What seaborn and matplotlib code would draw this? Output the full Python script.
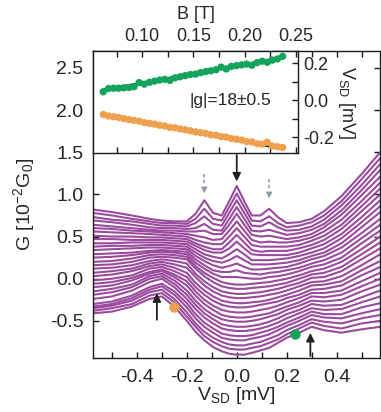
import numpy as np
import pandas as pd
import matplotlib
matplotlib.use('Agg')
import matplotlib.pyplot as plt
import seaborn as sns

# bias points shared by every conductance trace [mV]
v_sd = [-0.575, -0.5, -0.42, -0.35, -0.3, -0.25, -0.2, -0.165, -0.13, -0.095, -0.06, -0.03, 0.0,
        0.03, 0.06, 0.095, 0.13, 0.165, 0.2, 0.25, 0.3, 0.35, 0.42, 0.5, 0.575]

# offset traces, top to bottom [10^-2 G0]
g_upper = [
    [0.82, 0.79, 0.75, 0.71, 0.69, 0.68, 0.68, 0.77, 0.93, 0.78, 0.75, 0.92, 1.10, 0.92, 0.75, 0.75, 0.83, 0.73, 0.66, 0.67, 0.71, 0.80, 0.98, 1.24, 1.50],
    [0.78, 0.75, 0.71, 0.68, 0.66, 0.66, 0.65, 0.71, 0.83, 0.71, 0.69, 0.85, 1.01, 0.85, 0.69, 0.68, 0.74, 0.66, 0.61, 0.63, 0.67, 0.75, 0.92, 1.18, 1.43],
    [0.73, 0.70, 0.68, 0.65, 0.63, 0.63, 0.62, 0.66, 0.74, 0.65, 0.63, 0.78, 0.93, 0.78, 0.63, 0.62, 0.67, 0.61, 0.57, 0.58, 0.62, 0.70, 0.87, 1.11, 1.36],
    [0.69, 0.67, 0.64, 0.61, 0.60, 0.60, 0.59, 0.60, 0.65, 0.58, 0.57, 0.71, 0.85, 0.71, 0.57, 0.56, 0.58, 0.55, 0.52, 0.54, 0.58, 0.65, 0.81, 1.05, 1.29],
    [0.64, 0.62, 0.60, 0.58, 0.57, 0.57, 0.56, 0.56, 0.57, 0.53, 0.53, 0.64, 0.77, 0.64, 0.52, 0.50, 0.51, 0.49, 0.47, 0.49, 0.53, 0.61, 0.76, 0.99, 1.21],
    [0.60, 0.59, 0.57, 0.56, 0.55, 0.54, 0.53, 0.51, 0.49, 0.46, 0.47, 0.57, 0.68, 0.57, 0.46, 0.43, 0.44, 0.43, 0.43, 0.45, 0.49, 0.56, 0.70, 0.92, 1.14],
    [0.56, 0.55, 0.54, 0.53, 0.52, 0.51, 0.50, 0.46, 0.43, 0.41, 0.41, 0.50, 0.60, 0.50, 0.40, 0.38, 0.38, 0.38, 0.38, 0.40, 0.45, 0.51, 0.64, 0.86, 1.07],
    [0.51, 0.50, 0.50, 0.49, 0.49, 0.48, 0.47, 0.42, 0.38, 0.35, 0.35, 0.43, 0.52, 0.43, 0.34, 0.32, 0.33, 0.33, 0.33, 0.36, 0.40, 0.46, 0.59, 0.80, 1.00],
    [0.47, 0.47, 0.46, 0.46, 0.46, 0.45, 0.44, 0.39, 0.34, 0.31, 0.31, 0.36, 0.44, 0.36, 0.29, 0.28, 0.28, 0.28, 0.28, 0.31, 0.36, 0.41, 0.53, 0.73, 0.93],
    [0.42, 0.42, 0.43, 0.43, 0.43, 0.42, 0.41, 0.35, 0.29, 0.26, 0.24, 0.29, 0.35, 0.29, 0.22, 0.22, 0.22, 0.23, 0.24, 0.27, 0.31, 0.36, 0.48, 0.67, 0.86],
]
g_middle = [
    [0.38, 0.39, 0.39, 0.40, 0.40, 0.39, 0.38, 0.31, 0.25, 0.21, 0.19, 0.22, 0.27, 0.22, 0.17, 0.17, 0.17, 0.18, 0.19, 0.22, 0.27, 0.31, 0.42, 0.61, 0.79],
    [0.34, 0.35, 0.36, 0.37, 0.37, 0.36, 0.35, 0.27, 0.21, 0.16, 0.13, 0.15, 0.18, 0.14, 0.11, 0.11, 0.12, 0.13, 0.14, 0.18, 0.23, 0.27, 0.37, 0.54, 0.71],
    [0.29, 0.30, 0.31, 0.33, 0.34, 0.33, 0.32, 0.23, 0.16, 0.10, 0.08, 0.08, 0.10, 0.07, 0.06, 0.05, 0.07, 0.08, 0.10, 0.13, 0.18, 0.22, 0.31, 0.48, 0.64],
    [0.25, 0.26, 0.28, 0.31, 0.32, 0.31, 0.29, 0.19, 0.12, 0.06, 0.02, 0.02, 0.02, 0.01, 0.00, 0.00, 0.02, 0.03, 0.05, 0.09, 0.14, 0.17, 0.25, 0.42, 0.57],
    [0.20, 0.21, 0.24, 0.28, 0.29, 0.28, 0.26, 0.15, 0.07, 0.01, -0.04, -0.06, -0.07, -0.07, -0.06, -0.05, -0.04, -0.02, 0.00, 0.04, 0.09, 0.12, 0.20, 0.35, 0.50],
    [0.16, 0.17, 0.20, 0.25, 0.26, 0.25, 0.23, 0.12, 0.03, -0.04, -0.09, -0.11, -0.12, -0.12, -0.11, -0.10, -0.09, -0.07, -0.05, 0.00, 0.05, 0.07, 0.14, 0.29, 0.43],
    [0.12, 0.13, 0.16, 0.21, 0.23, 0.21, 0.18, 0.06, -0.03, -0.10, -0.15, -0.17, -0.18, -0.18, -0.17, -0.16, -0.14, -0.12, -0.09, -0.05, 0.01, 0.02, 0.09, 0.23, 0.36],
    [0.07, 0.09, 0.12, 0.18, 0.20, 0.17, 0.13, 0.02, -0.08, -0.15, -0.20, -0.22, -0.23, -0.23, -0.22, -0.21, -0.19, -0.17, -0.14, -0.09, -0.04, -0.03, 0.03, 0.16, 0.29],
    [0.03, 0.05, 0.09, 0.15, 0.17, 0.13, 0.07, -0.05, -0.14, -0.21, -0.26, -0.28, -0.29, -0.29, -0.28, -0.27, -0.25, -0.22, -0.19, -0.14, -0.08, -0.07, -0.03, 0.10, 0.21],
    [-0.02, 0.00, 0.04, 0.12, 0.14, 0.09, 0.02, -0.10, -0.19, -0.26, -0.31, -0.33, -0.34, -0.34, -0.33, -0.31, -0.29, -0.27, -0.23, -0.19, -0.13, -0.12, -0.08, 0.04, 0.14],
]
g_lower = [
    [-0.06, -0.04, 0.01, 0.08, 0.11, 0.05, -0.03, -0.15, -0.25, -0.32, -0.37, -0.39, -0.40, -0.40, -0.39, -0.37, -0.35, -0.32, -0.28, -0.23, -0.17, -0.17, -0.14, -0.03, 0.07],
    [-0.10, -0.08, -0.02, 0.06, 0.09, 0.02, -0.08, -0.20, -0.30, -0.37, -0.43, -0.45, -0.46, -0.46, -0.45, -0.43, -0.41, -0.37, -0.33, -0.28, -0.21, -0.22, -0.19, -0.09, 0.00],
    [-0.15, -0.12, -0.07, 0.03, 0.06, -0.02, -0.14, -0.26, -0.36, -0.43, -0.48, -0.50, -0.51, -0.51, -0.50, -0.48, -0.45, -0.42, -0.37, -0.32, -0.26, -0.27, -0.25, -0.15, -0.07],
    [-0.19, -0.16, -0.10, 0.00, 0.03, -0.06, -0.19, -0.31, -0.41, -0.48, -0.54, -0.56, -0.57, -0.57, -0.56, -0.54, -0.51, -0.47, -0.42, -0.37, -0.30, -0.32, -0.31, -0.22, -0.14],
    [-0.24, -0.21, -0.14, -0.04, 0.00, -0.10, -0.24, -0.36, -0.46, -0.53, -0.59, -0.61, -0.62, -0.62, -0.61, -0.59, -0.56, -0.52, -0.47, -0.41, -0.35, -0.37, -0.36, -0.28, -0.21],
    [-0.30, -0.27, -0.20, -0.10, -0.06, -0.15, -0.29, -0.42, -0.52, -0.59, -0.65, -0.67, -0.68, -0.68, -0.67, -0.64, -0.61, -0.57, -0.52, -0.46, -0.39, -0.42, -0.42, -0.34, -0.29],
    [-0.33, -0.30, -0.23, -0.13, -0.09, -0.19, -0.34, -0.47, -0.57, -0.64, -0.70, -0.72, -0.73, -0.73, -0.71, -0.69, -0.66, -0.61, -0.56, -0.50, -0.43, -0.46, -0.47, -0.41, -0.36],
    [-0.35, -0.32, -0.26, -0.16, -0.13, -0.24, -0.40, -0.53, -0.63, -0.70, -0.75, -0.78, -0.79, -0.79, -0.77, -0.75, -0.71, -0.67, -0.61, -0.55, -0.48, -0.51, -0.53, -0.47, -0.43],
    [-0.38, -0.35, -0.30, -0.20, -0.17, -0.28, -0.45, -0.57, -0.68, -0.75, -0.80, -0.83, -0.84, -0.84, -0.82, -0.80, -0.76, -0.72, -0.66, -0.59, -0.52, -0.56, -0.59, -0.53, -0.50],
    [-0.41, -0.39, -0.33, -0.24, -0.21, -0.33, -0.50, -0.63, -0.73, -0.81, -0.86, -0.89, -0.90, -0.90, -0.88, -0.85, -0.82, -0.76, -0.70, -0.64, -0.57, -0.61, -0.64, -0.60, -0.57],
]

# inset: peak positions vs field
b_field = [0.062, 0.067, 0.072, 0.077, 0.082, 0.087, 0.092, 0.097, 0.102, 0.107, 0.112, 0.117,
           0.122, 0.127, 0.132, 0.137, 0.142, 0.147, 0.152, 0.157, 0.162, 0.167, 0.172, 0.177,
           0.182, 0.187, 0.192, 0.197, 0.202, 0.207, 0.212, 0.217, 0.222, 0.227, 0.232, 0.237]
v_up = [0.045, 0.062, 0.064, 0.064, 0.066, 0.068, 0.072, 0.094, 0.086, 0.096, 0.102, 0.108,
        0.112, 0.106, 0.120, 0.126, 0.132, 0.138, 0.140, 0.148, 0.154, 0.158, 0.164, 0.178,
        0.168, 0.182, 0.186, 0.190, 0.194, 0.188, 0.202, 0.210, 0.204, 0.216, 0.222, 0.236]
v_down = [-0.078, -0.086, -0.090, -0.094, -0.100, -0.106, -0.110, -0.114, -0.122, -0.126, -0.130, -0.136,
          -0.140, -0.148, -0.150, -0.156, -0.160, -0.166, -0.172, -0.176, -0.180, -0.188, -0.190, -0.198,
          -0.200, -0.208, -0.212, -0.216, -0.224, -0.226, -0.236, -0.238, -0.228, -0.248, -0.252, -0.256]
fit_b = [0.063, 0.237]
fit_up = [0.058, 0.232]
fit_down = [-0.085, -0.265]

# marked peaks on the lowest trace
dot_orange = (-0.252, -0.33)
dot_green = (0.232, -0.66)

purple = '#9a4b9d'
green = '#13a35c'
orange = '#efa04e'
grey = '#8d9cab'

traces = g_upper + g_middle + g_lower
rows = []
for i, tr in enumerate(traces):
    for v, g in zip(v_sd, tr):
        rows.append((i, v, g))
df = pd.DataFrame(rows, columns=['trace', 'v', 'g'])

sns.set_theme(style='ticks')
plt.rcParams['font.family'] = ['Liberation Sans', 'DejaVu Sans']
plt.rcParams['mathtext.fontset'] = 'custom'
plt.rcParams['mathtext.rm'] = 'Liberation Sans'
plt.rcParams['mathtext.it'] = 'Liberation Sans:italic'
plt.rcParams['axes.unicode_minus'] = False

fig = plt.figure(figsize=(3.81, 4.12), dpi=100)

#%% main panel
ax = fig.add_axes([93 / 381, 54 / 412, 286.5 / 381, 307 / 412])
sns.lineplot(data=df, x='v', y='g', units='trace', estimator=None, sort=False,
             color=purple, lw=1.5, legend=False, ax=ax)
ax.plot(*dot_orange, 'o', color=orange, ms=7.5, mec='none', zorder=5)
ax.plot(*dot_green, 'o', color=green, ms=7.5, mec='none', zorder=5)

ax.set_xlim(-0.576, 0.572)
ax.set_ylim(-0.94, 2.70)
ax.set_xticks([-0.4, -0.2, 0.0, 0.2, 0.4])
ax.set_xticklabels(['-0.4', '-0.2', '0.0', '0.2', '0.4'])
ax.set_xticks([-0.5, -0.3, -0.1, 0.1, 0.3, 0.5], minor=True)
ax.set_yticks([-0.5, 0.0, 0.5, 1.0, 1.5, 2.0, 2.5])
ax.set_yticklabels(['-0.5', '0.0', '0.5', '1.0', '1.5', '2.0', '2.5'])
ax.tick_params(which='both', direction='in', top=True, right=True, length=4, width=1,
               color='k', labelsize=14)
ax.tick_params(axis='x', pad=8)
ax.tick_params(axis='y', pad=7)
for s in ax.spines.values():
    s.set_linewidth(1.0)
    s.set_color('k')
ax.set_xlabel('V$_{\\mathrm{SD}}$ [mV]', fontsize=14, labelpad=-1)
ax.set_ylabel('G [10$^{\\mathrm{-2}}$G$_{\\mathrm{0}}$]', fontsize=14, labelpad=9)

# arrows
ax.annotate('', xy=(0.0, 1.12), xytext=(0.0, 1.50),
            arrowprops=dict(arrowstyle='-|>', color='#222222', lw=1.3, mutation_scale=12))
ax.annotate('', xy=(-0.32, -0.14), xytext=(-0.32, -0.52),
            arrowprops=dict(arrowstyle='-|>', color='#222222', lw=1.3, mutation_scale=12))
ax.annotate('', xy=(0.295, -0.61), xytext=(0.295, -0.95),
            arrowprops=dict(arrowstyle='-|>', color='#222222', lw=1.3, mutation_scale=12),
            annotation_clip=False)
for xv, ytop in [(-0.13, 1.24), (0.13, 1.18)]:
    ax.plot([xv, xv], [ytop, ytop - 0.12], color=grey, lw=1.2, ls=(0, (2, 1.5)))
    ax.annotate('', xy=(xv, ytop - 0.26), xytext=(xv, ytop - 0.13),
                arrowprops=dict(arrowstyle='-|>', color=grey, lw=0.8, mutation_scale=9))

#%% inset
axin = fig.add_axes([93 / 381, 259 / 412, 205 / 381, 102 / 412])
axin.set_facecolor('white')
sns.lineplot(x=fit_b, y=fit_up, color='#111111', lw=1.2, ax=axin)
sns.lineplot(x=fit_b, y=fit_down, color='#111111', lw=1.2, ax=axin)
sns.scatterplot(x=b_field, y=v_up, color=green, s=28, edgecolor='none', ax=axin, zorder=3)
sns.scatterplot(x=b_field, y=v_down, color=orange, s=28, edgecolor='none', ax=axin, zorder=3)
axin.set_xlim(0.052, 0.252)
axin.set_ylim(-0.286, 0.265)
axin.xaxis.tick_top()
axin.xaxis.set_label_position('top')
axin.yaxis.tick_right()
axin.yaxis.set_label_position('right')
axin.set_xticks([0.10, 0.15, 0.20, 0.25])
axin.set_xticklabels(['0.10', '0.15', '0.20', '0.25'])
axin.set_xticks([0.075, 0.125, 0.175, 0.225], minor=True)
axin.set_yticks([-0.2, 0.0, 0.2])
axin.set_yticklabels(['-0.2', '0.0', '0.2'])
axin.set_yticks([-0.1, 0.1], minor=True)
axin.tick_params(which='both', direction='in', top=True, bottom=True, left=False, right=True,
                 labeltop=True, labelbottom=False, labelleft=False, labelright=True,
                 length=4, width=1, color='k', labelsize=13, pad=4)
for s in axin.spines.values():
    s.set_linewidth(1.0)
    s.set_color('k')
axin.set_xlabel('B [T]', fontsize=13, labelpad=7)
axin.set_ylabel('V$_{\\mathrm{SD}}$ [mV]', fontsize=13, rotation=270, labelpad=16)
axin.text(0.186, 0.0, '|g|=18±0.5', ha='center', va='center', fontsize=12.5)

plt.savefig('out.png', dpi=100)
